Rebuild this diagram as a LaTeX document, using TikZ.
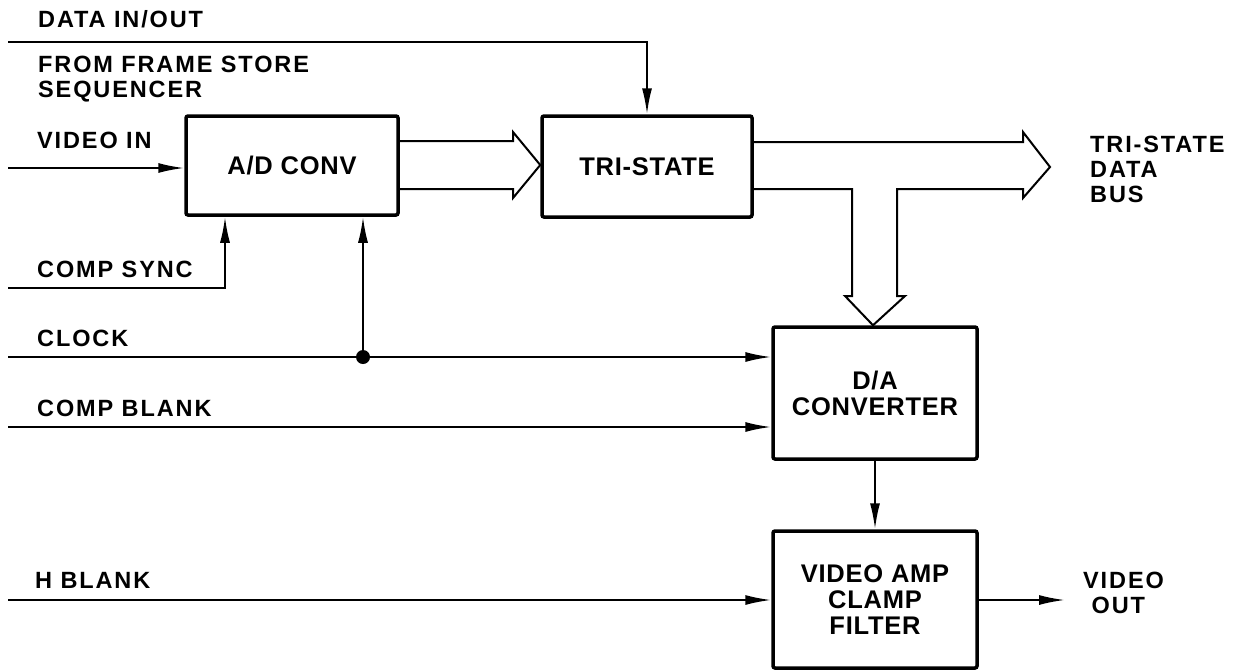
\documentclass[tikz,border=0pt]{standalone}
\usepackage{fontspec}
\setmainfont{Liberation Sans}
\newfontfamily\labfont[LetterSpace=8]{Liberation Sans}
\newfontfamily\boxfont[LetterSpace=3]{Liberation Sans}
\usetikzlibrary{arrows.meta}
\begin{document}
\begin{tikzpicture}[x=1pt,y=-1pt,
  blk/.style={draw,line width=3.5pt,rounded corners=2pt,align=center,
    font=\boxfont\bfseries\fontsize{25.5}{28}\selectfont,inner sep=0pt},
  lab/.style={anchor=base west,inner sep=0pt,align=left,
    font=\labfont\bfseries\fontsize{23.5}{25}\selectfont},
  wire/.style={line width=2pt},
  arr/.style={wire,-{Latex[length=26pt,width=10pt]}},
  bus/.style={line width=2pt,line join=miter}]
\useasboundingbox (0,0) rectangle (1239,670);
% blocks
\node[blk,minimum width=212pt,minimum height=99pt] (ad) at (292,165.5) {A/D CONV};
\node[blk,minimum width=210pt,minimum height=101pt] (tri) at (647,166.5) {TRI-STATE};
\node[blk,minimum width=204pt,minimum height=132pt] (da) at (875,393) {D/A\\[-2pt]CONVERTER};
\node[blk,minimum width=204pt,minimum height=137pt] (va) at (875,599.5) {VIDEO AMP\\[-2pt]CLAMP\\[-2pt]FILTER};
% labels
\node[lab] (l1) at (38,27) {DATA IN/OUT};
\node[lab] (l2) at (38,72) {FROM FRAME STORE};
\node[lab] (l3) at (38,97) {SEQUENCER};
\node[lab] (l4) at (37,148) {VIDEO IN};
\node[lab] (l5) at (37,277) {COMP SYNC};
\node[lab] (l6) at (37,346) {CLOCK};
\node[lab] (l7) at (37,416) {COMP BLANK};
\node[lab] (l8) at (35,588) {H BLANK};
\node[lab] (l9) at (1090,202) {TRI-STATE\\DATA\\BUS};
\node[lab] (l10) at (1083,613) {VIDEO\\\ OUT};
% wire endpoints
\coordinate (din) at (8,42);
\coordinate (vin) at (8,168);
\coordinate (cs) at (8,288);
\coordinate (csx) at (225,0);
\coordinate (clk) at (8,357);
\coordinate (dot) at (363,357);
\coordinate (cb) at (8,427);
\coordinate (hb) at (8,600);
\coordinate (vout) at (1065,600);
% wires
\draw[arr] (din) -| (tri.north);
\draw[arr] (vin) -- (vin -| ad.west);
\draw[arr] (cs) -| (ad.south -| csx);
\draw[arr] (clk) -- (clk -| da.west);
\fill (dot) circle (7pt);
\draw[arr] (dot) -- (ad.south -| dot);
\draw[arr] (cb) -- (cb -| da.west);
\draw[arr] (hb) -- (hb -| va.west);
\draw[arr] (da.south) -- (va.north);
\draw[arr] (va.east |- vout) -- (vout);
% bus A/D -> TRI-STATE
\draw[bus] (ad.east |- 0,141) -- (513,141) -- (513,132) -- (tri.west |- 0,165)
  -- (513,198) -- (513,189) -- (ad.east |- 0,189);
% output bus
\draw[bus] (tri.east |- 0,142) -- (1023,142) -- (1023,132) -- (1050,167)
  -- (1023,198) -- (1023,189) -- (897,189) -- (897,296) -- (905,296)
  -- (da.north -| 873,0) -- (845,296) -- (852,296) -- (852,189)
  -- (tri.east |- 0,189);
\end{tikzpicture}
\end{document}
